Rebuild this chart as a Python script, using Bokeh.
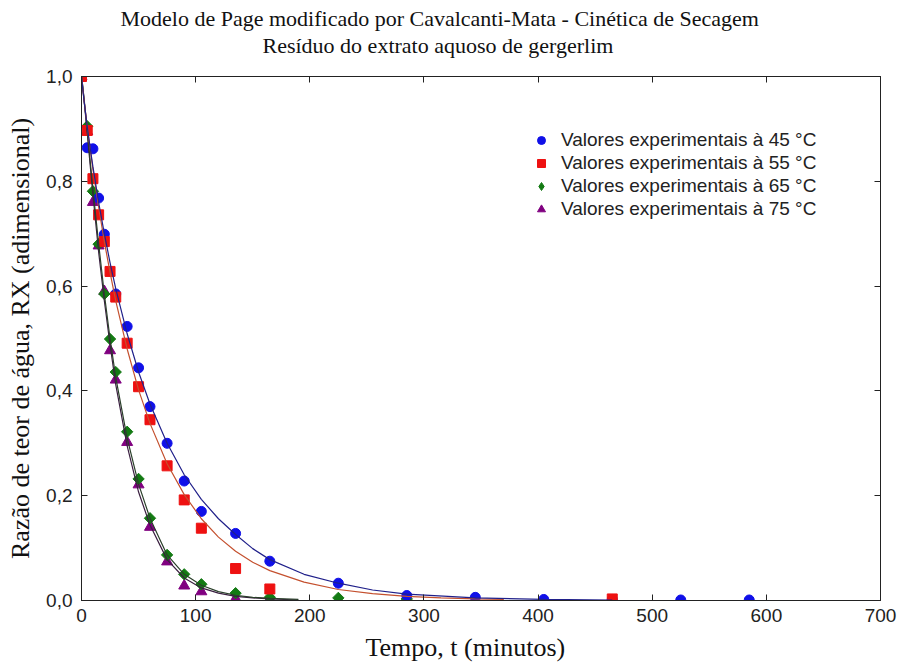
import math
from bokeh.plotting import figure
from bokeh.models import (Range1d, LinearAxis, CustomJSTickFormatter, FixedTicker,
                          Title, Legend, LegendItem, ColumnDataSource)
from bokeh.embed import file_html
from bokeh.resources import INLINE

# ---------------- data ----------------
title_line1 = "Modelo de Page modificado por Cavalcanti-Mata - Cinética de Secagem"
title_line2 = "Resíduo do extrato aquoso de gergerlim"
x_label = "Tempo, t (minutos)"
y_label = "Razão de teor de água, RX (adimensional)"

x_ticks = [0, 100, 200, 300, 400, 500, 600, 700]
y_ticks = [0.0, 0.2, 0.4, 0.6, 0.8, 1.0]

legend_labels = ["Valores experimentais à 45 °C", "Valores experimentais à 55 °C",
                 "Valores experimentais à 65 °C", "Valores experimentais à 75 °C"]

# experimental points
t45 = [0, 5, 10, 15, 20, 30, 40, 50, 60, 75, 90, 105, 135, 165, 225, 285, 345, 405, 465, 525, 585]
rx45 = [1.0, 0.864, 0.862, 0.768, 0.699, 0.585, 0.523, 0.444, 0.370, 0.300, 0.228, 0.170,
        0.128, 0.075, 0.033, 0.0095, 0.006, 0.002, 0.002, 0.001, 0.001]
t55 = [0, 5, 10, 15, 20, 25, 30, 40, 50, 60, 75, 90, 105, 135, 165, 465]
rx55 = [1.0, 0.897, 0.805, 0.736, 0.685, 0.628, 0.579, 0.491, 0.408, 0.345, 0.257, 0.192,
        0.138, 0.061, 0.022, 0.003]
t65 = [0, 5, 10, 15, 20, 25, 30, 40, 50, 60, 75, 90, 105, 135, 165, 225, 285]
rx65 = [1.0, 0.905, 0.781, 0.680, 0.585, 0.499, 0.436, 0.322, 0.232, 0.157, 0.087, 0.050,
        0.031, 0.014, 0.006, 0.005, 0.003]
t75 = [0, 5, 10, 15, 20, 25, 30, 40, 50, 60, 75, 90, 105, 135, 165]
rx75 = [1.0, 0.895, 0.760, 0.677, 0.590, 0.477, 0.421, 0.302, 0.221, 0.140, 0.074, 0.028,
        0.017, 0.004, 0.004]

# fitted model curves
tc45 = [0, 1, 2, 3, 5, 7.5, 10, 15, 20, 25, 30, 40, 50, 60, 75, 90, 105, 120, 135, 150,
        165, 195, 225, 255, 285, 345, 405, 465]
c45 = [1.0, 0.978, 0.958, 0.940, 0.905, 0.865, 0.828, 0.760, 0.700, 0.645, 0.595, 0.509,
       0.436, 0.375, 0.300, 0.240, 0.193, 0.156, 0.126, 0.099, 0.078, 0.050, 0.033, 0.020,
       0.012, 0.005, 0.002, 0.001]
tc55 = [0, 1, 2, 3, 5, 7.5, 10, 15, 20, 25, 30, 40, 50, 60, 75, 90, 105, 120, 135, 150,
        165, 195, 225, 255, 285, 315, 345, 370]
c55 = [1.0, 0.979, 0.959, 0.941, 0.905, 0.863, 0.823, 0.751, 0.685, 0.626, 0.572, 0.480,
       0.402, 0.338, 0.261, 0.202, 0.156, 0.121, 0.094, 0.073, 0.057, 0.035, 0.021, 0.013,
       0.008, 0.005, 0.003, 0.002]
tc65 = [0, 1, 2, 3, 5, 7.5, 10, 15, 20, 25, 30, 40, 50, 60, 75, 90, 105, 120, 135, 150, 165, 190]
c65 = [1.0, 0.983, 0.963, 0.941, 0.897, 0.841, 0.785, 0.681, 0.585, 0.500, 0.426, 0.310,
       0.222, 0.157, 0.087, 0.050, 0.029, 0.017, 0.010, 0.006, 0.004, 0.002]
tc75 = [0, 1, 2, 3, 5, 7.5, 10, 15, 20, 25, 30, 40, 50, 60, 75, 90, 105, 120, 135, 150, 165, 190]
c75 = [1.0, 0.982, 0.961, 0.938, 0.893, 0.833, 0.775, 0.665, 0.572, 0.488, 0.412, 0.295,
       0.207, 0.144, 0.078, 0.043, 0.024, 0.014, 0.008, 0.005, 0.003, 0.001]

# ---------------- figure ----------------
SERIF = "Liberation Serif"
SANS = "Liberation Sans"

p = figure(width=898, height=668, x_range=Range1d(0, 700), y_range=Range1d(0, 1.0),
           output_backend="svg", toolbar_location=None,
           min_border_left=81, min_border_right=18, min_border_top=76, min_border_bottom=68,
           background_fill_color="white", border_fill_color="white")
p.xgrid.visible = False
p.ygrid.visible = False
p.outline_line_color = "#222222"

p.title.text = title_line1
p.title.align = "left"
p.title.offset = 39
p.title.text_font = SERIF
p.title.text_font_size = "22px"
p.title.text_font_style = "normal"
p.title.text_color = "#111111"
p.title.standoff = 0

ax_color = "#222222"
xa = p.xaxis[0]
xa.ticker = FixedTicker(ticks=x_ticks)
ya = p.yaxis[0]
ya.ticker = FixedTicker(ticks=y_ticks)
ya.formatter = CustomJSTickFormatter(code="return tick.toFixed(1).replace('.', ',');")
ya.axis_label = y_label
for ax in (xa, ya):
    ax.axis_line_color = ax_color
    ax.major_tick_line_color = ax_color
    ax.major_tick_in = 6
    ax.major_tick_out = 0
    ax.minor_tick_in = 0
    ax.minor_tick_out = 0
    ax.major_label_text_font = SANS
    ax.major_label_text_font_size = "19px"
    ax.major_label_text_color = "#222222"
    ax.axis_label_text_font = SERIF
    ax.axis_label_text_font_size = "26px"
    ax.axis_label_text_font_style = "normal"
    ax.axis_label_text_color = "#111111"
xa.major_label_standoff = 8
xa.major_label_text_line_height = 0.8
ya.major_label_standoff = 9
ya.axis_label_standoff = 8

blank = CustomJSTickFormatter(code="return '';")
top = LinearAxis(ticker=FixedTicker(ticks=x_ticks), formatter=blank)
right = LinearAxis(ticker=FixedTicker(ticks=y_ticks), formatter=blank)
for ax in (top, right):
    ax.axis_line_color = ax_color
    ax.major_tick_line_color = ax_color
    ax.major_tick_in = 6
    ax.major_tick_out = 0
    ax.minor_tick_in = 0
    ax.minor_tick_out = 0
    ax.major_label_standoff = 0
    ax.major_label_text_font_size = "1px"
p.add_layout(top, "above")
p.add_layout(right, "right")

# thin spacer between the frame and the second title line
spacer = Title(text=" ", text_font_size="1px", standoff=16)
p.add_layout(spacer, "above")

sub = Title(text=title_line2, align="left", offset=181, text_font=SERIF,
            text_font_size="22px", text_font_style="normal", text_color="#111111",
            standoff=0)
p.add_layout(sub, "above")

xlab = Title(text=x_label, align="left", offset=284, text_font=SERIF,
             text_font_size="26px", text_font_style="normal", text_color="#111111",
             text_line_height=1.0, standoff=12)
p.add_layout(xlab, "below")

# ---------------- glyphs ----------------
s45 = ColumnDataSource(dict(t=t45, rx=rx45))
s55 = ColumnDataSource(dict(t=t55, rx=rx55))
s65 = ColumnDataSource(dict(t=t65[1:], rx=rx65[1:]))
s65_start = ColumnDataSource(dict(t=t65[:1], rx=rx65[:1]))
s75 = ColumnDataSource(dict(t=t75, rx=rx75))

r75 = p.scatter("t", "rx", source=s75, marker="triangle", size=11,
                fill_color="#800080", line_color="#800080")
r65 = p.scatter("t", "rx", source=s65, marker="square", size=8, angle=math.pi / 4,
                fill_color="#137a13", line_color="#137a13")
r65_key = p.scatter("t", "rx", source=s65_start, marker="diamond", size=12,
                    fill_color="#137a13", line_color="#137a13")
r45 = p.scatter("t", "rx", source=s45, marker="circle", size=10,
                fill_color="#1010e8", line_color="#1010e8")
r55 = p.scatter("t", "rx", source=s55, marker="square", size=10,
                fill_color="#ee1111", line_color="#ee1111")

p.line(tc75, c75, line_color="#3a1f40", line_width=1.2)
p.line(tc65, c65, line_color="#2a3f2a", line_width=1.2)
p.line(tc55, c55, line_color="#c4502e", line_width=1.2)
p.line(tc45, c45, line_color="#20208a", line_width=1.2)

legend = Legend(items=[LegendItem(label=legend_labels[0], renderers=[r45]),
                       LegendItem(label=legend_labels[1], renderers=[r55]),
                       LegendItem(label=legend_labels[2], renderers=[r65_key]),
                       LegendItem(label=legend_labels[3], renderers=[r75])],
                location=(450, 380), padding=0, margin=0, spacing=0,
                label_height=23, glyph_height=20, glyph_width=20, label_standoff=10,
                label_text_font=SANS, label_text_font_size="19px", label_text_color="#222222",
                border_line_alpha=0, background_fill_alpha=0)
p.add_layout(legend, "center")

open("out.html", "w").write(file_html(p, INLINE))
